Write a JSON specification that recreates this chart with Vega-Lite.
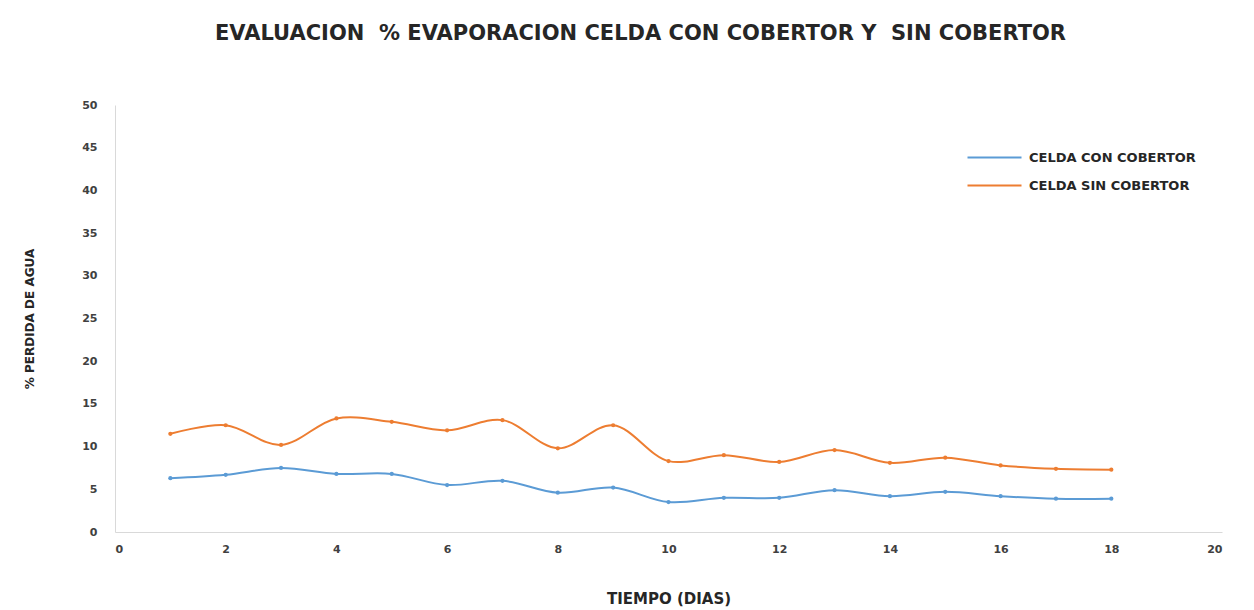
{
  "$schema": "https://vega.github.io/schema/vega-lite/v6.json",
  "width": 1107,
  "height": 427,
  "autosize": {"type": "none"},
  "padding": {"left": 115, "top": 105, "right": 32, "bottom": 78},
  "background": "white",
  "title": {
    "text": "EVALUACION \u00a0% EVAPORACION CELDA CON COBERTOR Y \u00a0SIN COBERTOR",
    "anchor": "middle",
    "dx": -28,
    "offset": 55,
    "fontSize": 21,
    "font": "DejaVu Sans",
    "fontWeight": "bold",
    "color": "#262626"
  },
  "data": {
    "values": [
      {"dia": 1, "serie": "CELDA CON COBERTOR", "valor": 6.3},
      {"dia": 2, "serie": "CELDA CON COBERTOR", "valor": 6.7},
      {"dia": 3, "serie": "CELDA CON COBERTOR", "valor": 7.5},
      {"dia": 4, "serie": "CELDA CON COBERTOR", "valor": 6.8},
      {"dia": 5, "serie": "CELDA CON COBERTOR", "valor": 6.8},
      {"dia": 6, "serie": "CELDA CON COBERTOR", "valor": 5.5},
      {"dia": 7, "serie": "CELDA CON COBERTOR", "valor": 6.0},
      {"dia": 8, "serie": "CELDA CON COBERTOR", "valor": 4.6},
      {"dia": 9, "serie": "CELDA CON COBERTOR", "valor": 5.2},
      {"dia": 10, "serie": "CELDA CON COBERTOR", "valor": 3.5},
      {"dia": 11, "serie": "CELDA CON COBERTOR", "valor": 4.0},
      {"dia": 12, "serie": "CELDA CON COBERTOR", "valor": 4.0},
      {"dia": 13, "serie": "CELDA CON COBERTOR", "valor": 4.9},
      {"dia": 14, "serie": "CELDA CON COBERTOR", "valor": 4.2},
      {"dia": 15, "serie": "CELDA CON COBERTOR", "valor": 4.7},
      {"dia": 16, "serie": "CELDA CON COBERTOR", "valor": 4.2},
      {"dia": 17, "serie": "CELDA CON COBERTOR", "valor": 3.9},
      {"dia": 18, "serie": "CELDA CON COBERTOR", "valor": 3.9},
      {"dia": 1, "serie": "CELDA SIN COBERTOR", "valor": 11.5},
      {"dia": 2, "serie": "CELDA SIN COBERTOR", "valor": 12.5},
      {"dia": 3, "serie": "CELDA SIN COBERTOR", "valor": 10.2},
      {"dia": 4, "serie": "CELDA SIN COBERTOR", "valor": 13.3},
      {"dia": 5, "serie": "CELDA SIN COBERTOR", "valor": 12.9},
      {"dia": 6, "serie": "CELDA SIN COBERTOR", "valor": 11.9},
      {"dia": 7, "serie": "CELDA SIN COBERTOR", "valor": 13.1},
      {"dia": 8, "serie": "CELDA SIN COBERTOR", "valor": 9.8},
      {"dia": 9, "serie": "CELDA SIN COBERTOR", "valor": 12.5},
      {"dia": 10, "serie": "CELDA SIN COBERTOR", "valor": 8.3},
      {"dia": 11, "serie": "CELDA SIN COBERTOR", "valor": 9.0},
      {"dia": 12, "serie": "CELDA SIN COBERTOR", "valor": 8.2},
      {"dia": 13, "serie": "CELDA SIN COBERTOR", "valor": 9.6},
      {"dia": 14, "serie": "CELDA SIN COBERTOR", "valor": 8.1},
      {"dia": 15, "serie": "CELDA SIN COBERTOR", "valor": 8.7},
      {"dia": 16, "serie": "CELDA SIN COBERTOR", "valor": 7.8},
      {"dia": 17, "serie": "CELDA SIN COBERTOR", "valor": 7.4},
      {"dia": 18, "serie": "CELDA SIN COBERTOR", "valor": 7.3}
    ]
  },
  "encoding": {
    "x": {
      "field": "dia",
      "type": "quantitative",
      "scale": {"domain": [0, 20], "nice": false},
      "axis": {
        "title": "TIEMPO (DIAS)",
        "values": [0, 2, 4, 6, 8, 10, 12, 14, 16, 18, 20],
        "grid": false,
        "ticks": false,
        "domainColor": "#d9d9d9",
        "labelPadding": 11,
        "titlePadding": 37,
        "titleFontSize": 15
      }
    },
    "y": {
      "field": "valor",
      "type": "quantitative",
      "scale": {"domain": [0, 50], "nice": false},
      "axis": {
        "title": "% PERDIDA DE AGUA",
        "values": [0, 5, 10, 15, 20, 25, 30, 35, 40, 45, 50],
        "grid": false,
        "ticks": false,
        "domainColor": "#d9d9d9",
        "labelPadding": 18,
        "titlePadding": 45,
        "titleFontSize": 12
      }
    },
    "color": {
      "field": "serie",
      "type": "nominal",
      "scale": {
        "domain": ["CELDA CON COBERTOR", "CELDA SIN COBERTOR"],
        "range": ["#5B9BD5", "#ED7D31"]
      },
      "legend": {
        "title": null,
        "orient": "none",
        "legendX": 865,
        "legendY": 38,
        "symbolType": "M-2,0L2,0",
        "symbolSize": 729,
        "symbolStrokeWidth": 2,
        "labelFontSize": 13,
        "labelFont": "DejaVu Sans",
        "labelFontWeight": "bold",
        "labelColor": "#262626",
        "labelLimit": 400,
        "rowPadding": 6,
        "labelOffset": 20
      }
    }
  },
  "layer": [
    {"mark": {"type": "line", "interpolate": "catmull-rom", "strokeWidth": 2}},
    {"mark": {"type": "point", "filled": true, "size": 18, "opacity": 1}}
  ],
  "config": {
    "view": {"stroke": null},
    "axis": {
      "labelFont": "DejaVu Sans",
      "labelFontWeight": "bold",
      "labelFontSize": 11,
      "labelColor": "#404040",
      "titleFont": "DejaVu Sans",
      "titleFontWeight": "bold",
      "titleFontSize": 13,
      "titleColor": "#262626"
    }
  }
}
